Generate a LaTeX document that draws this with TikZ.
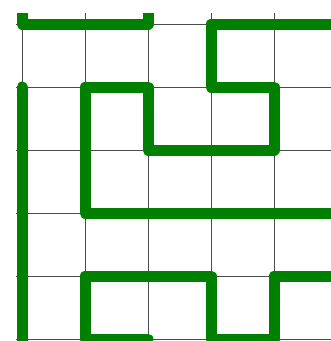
\documentclass[tikz,border=0pt]{standalone}
\usepackage{tikz}

\begin{document}
\begin{tikzpicture}[x=1pt, y=-1pt,
    gridline/.style={black!70, line width=0.9pt},
    route/.style={line width=11pt, green!50!black, line cap=round, line join=round}]
  \useasboundingbox (0,0) rectangle (331,341);
  \begin{scope}
  \clip (16,13) rectangle (331,341);

  % grid
  \foreach \i in {0,...,5} {
    \draw[gridline] (22+63*\i,13) -- (22+63*\i,341);
    \draw[gridline] (16,24+63*\i) -- (331,24+63*\i);
  }

  % top bracket
  \draw[route] (22,5) -- (22,24) -- (148,24) -- (148,5);

  % long route
  \draw[route] (345,24) -- (211,24) -- (211,87) -- (274,87) -- (274,150)
    -- (148,150) -- (148,87) -- (85,87) -- (85,213) -- (345,213);

  % left bar
  \draw[route] (22,87) -- (22,350);

  % bottom route
  \draw[route] (148,339) -- (85,339) -- (85,276) -- (211,276) -- (211,339)
    -- (274,339) -- (274,276) -- (345,276);
  \end{scope}
\end{tikzpicture}
\end{document}
